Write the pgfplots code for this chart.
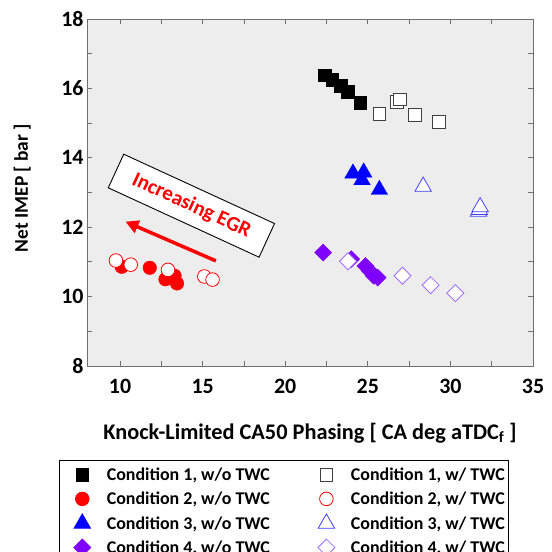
\documentclass[border=0pt]{standalone}
\usepackage{pgfplots}
\pgfplotsset{compat=1.18}
\usepackage{fontspec}
\setmainfont{Carlito}
\usetikzlibrary{arrows.meta}
\definecolor{bgc}{HTML}{EDEDED}
\definecolor{frm}{HTML}{707070}
\definecolor{vio}{HTML}{7F00FF}
\definecolor{vioL}{HTML}{A070FF}
\definecolor{bluL}{HTML}{4040FF}
\begin{document}
\begin{tikzpicture}
\useasboundingbox (0,0) rectangle (552bp,552bp);
\clip (0,0) rectangle (552bp,552bp);
\begin{axis}[
  at={(87bp,186bp)}, anchor=south west,
  width=446bp, height=347bp, scale only axis,
  xmin=8, xmax=35, ymin=8, ymax=18,
  xtick={10,15,20,25,30,35}, ytick={8,10,12,14,16,18},
  minor x tick num=1, minor y tick num=1,
  tick align=inside,
  major tick length=5bp, minor tick length=5bp,
  axis line style={draw=frm, line width=0.9bp},
  every tick/.style={draw=frm, line width=0.8bp},
  axis background/.style={fill=bgc},
  /pgf/number format/assume math mode=true,
  ticklabel style={font=\fontsize{22}{25}\selectfont\bfseries},
  xticklabel style={yshift=-10bp},
  xlabel={Knock-Limited CA50 Phasing [ CA deg aTDC\textsubscript{f} ]},
  ylabel={Net IMEP [ bar ]},
  xlabel style={at={(axis description cs:0.5,-0.193)}, anchor=center, font=\fontsize{22.4}{26}\selectfont\bfseries},
  ylabel style={at={(axis description cs:-0.145,0.513)}, anchor=center, font=\fontsize{19.5}{23}\selectfont\bfseries},
  legend columns=2,
  legend image code/.code={%
    \path[draw=none, fill=none] (-12bp,-1bp) rectangle (17bp,1bp);
    \draw[mark repeat=2,mark phase=2,#1] plot coordinates {(0bp,0bp) (8.5bp,0bp) (17bp,0bp)};},
  legend style={at={(axis description cs:-0.0619,-0.272)}, anchor=north west,
    draw=black, line width=0.8bp, fill=white,
    font=\fontsize{18}{21}\selectfont\bfseries,
    row sep=6bp, inner xsep=2bp, inner ysep=5bp,
    /tikz/every odd column/.append style={column sep=14bp},
    /tikz/every even column/.append style={column sep=34bp}},
  legend cell align=left,
]
% Condition 1 w/o
\addplot[only marks, mark=square*, mark size=6.3bp, mark options={fill=black, draw=black}]
  coordinates {(22.4,16.38) (22.85,16.25) (23.35,16.08) (23.8,15.9) (24.55,15.58)};
\addlegendentry{Condition 1, w/o TWC}
% Condition 1 w/
\addplot[only marks, mark=square*, mark size=6.3bp, mark options={fill=white, draw=black!75, line width=1bp}]
  coordinates {(25.7,15.27) (26.75,15.6) (26.95,15.68) (27.85,15.23) (29.3,15.03)};
\addlegendentry{Condition 1, w/ TWC}
% Condition 2 w/o
\addplot[only marks, mark=*, mark size=6.8bp, mark options={fill=red, draw=red}]
  coordinates {(10.1,10.86) (11.8,10.83) (12.75,10.5) (13.3,10.6) (13.45,10.38)};
\addlegendentry{Condition 2, w/o TWC}
% Condition 2 w/
\addplot[only marks, mark=*, mark size=6.8bp, mark options={fill=white, draw=red, line width=0.8bp}]
  coordinates {(9.75,11.04) (10.65,10.92) (12.9,10.77) (15.1,10.58) (15.6,10.49)};
\addlegendentry{Condition 2, w/ TWC}
% Condition 3 w/o
\addplot[only marks, mark=triangle*, mark size=9.5bp, mark options={fill=blue, draw=blue}]
  coordinates {(24.1,13.55) (24.75,13.58) (24.65,13.36) (25.7,13.08)};
\addlegendentry{Condition 3, w/o TWC}
% Condition 3 w/
\addplot[only marks, mark=triangle*, mark size=9.5bp, mark options={fill=white, draw=bluL, line width=0.8bp}]
  coordinates {(28.35,13.17) (31.7,12.45) (31.75,12.5) (31.8,12.58)};
\addlegendentry{Condition 3, w/ TWC}
% Condition 4 w/o
\addplot[only marks, mark=square*, mark size=6bp, mark options={rotate=45, fill=vio, draw=vio}]
  coordinates {(22.3,11.27) (24.0,11.08) (24.85,10.88) (25.1,10.75) (25.35,10.6) (25.6,10.55)};
\addlegendentry{Condition 4, w/o TWC}
% Condition 4 w/
\addplot[only marks, mark=square*, mark size=6bp, mark options={rotate=45, fill=white, draw=vioL, line width=0.8bp}]
  coordinates {(23.8,11.02) (27.1,10.6) (28.8,10.33) (30.3,10.1)};
\addlegendentry{Condition 4, w/ TWC}

\node[draw=black, line width=0.9bp, fill=white, rotate=-24.7,
  minimum width=166bp, minimum height=37bp, inner sep=0pt,
  text=red, font=\fontsize{21}{24}\selectfont\bfseries]
  at (axis cs:14.32,12.62) {Increasing EGR};
\draw[red, line width=3.5bp, -{Triangle[length=13bp, width=13bp]}]
  (axis cs:15.8,11.03) -- (axis cs:10.33,12.16);
\end{axis}
\end{tikzpicture}
\end{document}
